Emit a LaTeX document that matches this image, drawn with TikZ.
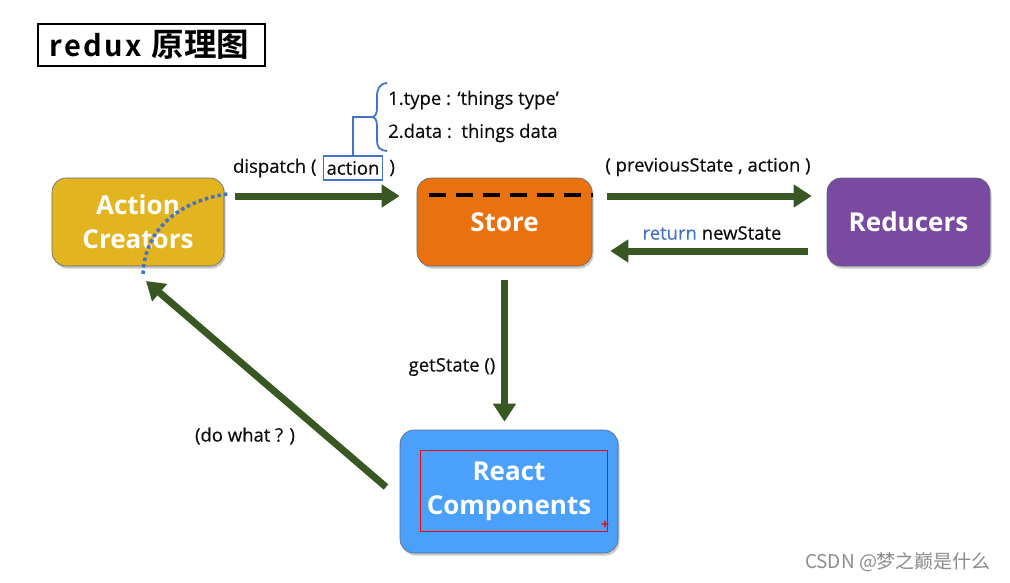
\documentclass[tikz,border=0pt]{standalone}
\usepackage{fontspec}
\setmainfont{Open Sans}
\newfontfamily\cjk{Noto Sans CJK SC}
\newfontfamily\cjkb{Noto Sans CJK SC Bold}
\usetikzlibrary{arrows.meta,shadows}
\definecolor{acyel}{RGB}{226,180,32}
\definecolor{storeor}{RGB}{233,113,14}
\definecolor{redpur}{RGB}{122,74,160}
\definecolor{rcblue}{RGB}{74,160,250}
\definecolor{arrgreen}{RGB}{56,87,35}
\definecolor{brblue}{RGB}{68,114,196}
\definecolor{boxedge}{RGB}{90,105,130}
\tikzset{
  x=1pt,y=-1pt,
  bigbox/.style={draw=boxedge,line width=0.6pt,rounded corners=14pt,
    text=white,font=\fontsize{26}{34}\selectfont\bfseries,align=center,
    inner sep=0pt,
    drop shadow={shadow xshift=1.5pt,shadow yshift=-2.5pt,opacity=0.35,fill=black!60}},
  flow/.style={draw=arrgreen,line width=7pt,
    -{Triangle[length=18pt 0,width=22pt 0]}},
  lbl/.style={font=\fontsize{18.5}{22}\selectfont\addfontfeature{FakeBold=0.4},text=black!95,inner sep=0pt},
}
\begin{document}
\begin{tikzpicture}
\useasboundingbox (0,0) rectangle (1010,582);
\fill[white] (0,0) rectangle (1010,582);
% title
\node[draw=black,line width=2pt,minimum width=227pt,minimum height=42pt,inner sep=0pt]
  (title) at (151.5,45) {\hspace*{-4pt}\cjkb\fontsize{29}{30}\selectfont{\addfontfeature{LetterSpace=8}redux}\hspace{10pt}\fontsize{32.5}{32}\selectfont 原理图};
% boxes
\node[bigbox,fill=acyel,minimum width=172pt,minimum height=88pt] (ac) at (138,222) {Action\\Creators};
\node[bigbox,fill=storeor,minimum width=175pt,minimum height=88pt] (store) at (504.5,222) {Store};
\node[bigbox,fill=redpur,minimum width=163pt,minimum height=88pt] (red) at (908.5,222) {Reducers};
\node[bigbox,fill=rcblue,minimum width=218pt,minimum height=123pt] (rc) at (509,491.5) {React\\Components};
% red selection rectangle inside React Components
\node[draw=red,line width=1pt,minimum width=187pt,minimum height=81pt,inner sep=0pt] (sel) at (513.5,490.5) {};
\node[text=red,font=\fontsize{14}{14}\selectfont\bfseries,inner sep=0pt] (plus) at (605,525) {+};
% dashed line on store
\draw[black,line width=4pt,dash pattern=on 17pt off 10pt] ([xshift=-76pt,yshift=27pt]store.center) -- ([xshift=88pt,yshift=27pt]store.center);
% arrows
\draw[flow,shorten <=11pt,shorten >=17pt] ([yshift=26pt]ac.east) -- ([yshift=26pt]store.west);
\draw[flow,shorten <=15pt,shorten >=15pt] ([yshift=26pt]store.east) -- ([yshift=26pt]red.west);
\draw[flow,shorten <=19pt,shorten >=18pt] ([yshift=-29pt]red.west) -- ([yshift=-29pt]store.east);
\draw[flow,shorten <=14pt,shorten >=8pt] (store.south) -- (store.south |- rc.north);
\coordinate (dstart) at (386,487);
\coordinate (dend) at (146,281);
\draw[flow] (dstart) -- (dend);
% blue dotted arc on action creators
\draw[brblue,line width=3.5pt,dash pattern=on 3.5pt off 3pt]
  ([xshift=3pt,yshift=28pt]ac.east) .. controls (185,200) and (145,225) .. (143,274);
% labels
\node[lbl,draw=brblue,line width=1.8pt,inner xsep=3pt,inner ysep=5pt,minimum width=58pt] (act) at (353,168) {action};
\node[lbl,anchor=east] (disp) at ([xshift=-6pt]act.west) {dispatch (};
\node[lbl,anchor=west] (close) at ([xshift=6pt]act.east) {)};
\coordinate (btip) at (372,117);
\draw[brblue,line width=1.8pt] (act.north) -- (act.north |- btip) -- (btip);
\draw[brblue,line width=1.8pt] (387,83) .. controls (379,84) and (377,89) .. (377,97) -- (377,108)
  .. controls (377,114) and (375,117) .. (btip)
  .. controls (375,117) and (377,120) .. (377,126) -- (377,140)
  .. controls (377,147) and (379,150) .. (387,151);
\node[lbl,anchor=west] (t1) at (388,100) {1.type : ‘things type’};
\node[lbl,anchor=west] (t2) at (388,133) {2.data :\ \ things data};
\node[lbl] (prev) at (708,167) {( previousState , action )};
\node[lbl] (ret) at (712,233) {\textcolor{brblue}{return} newState};
\node[lbl] (gs) at (452,367) {getState ()};
\node[lbl] (dw) at (245,436) {(do what ? )};
\node[font=\cjk\fontsize{19}{20}\selectfont,text=black!45,inner sep=0pt] (wm) at (898,562) {CSDN @梦之巅是什么};
\end{tikzpicture}
\end{document}
